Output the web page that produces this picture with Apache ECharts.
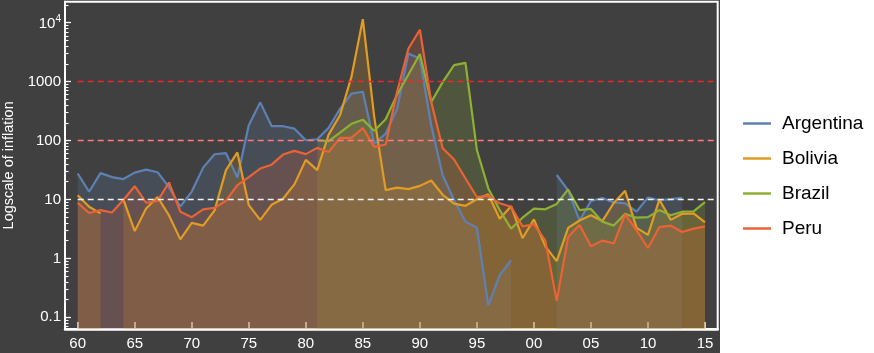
<!DOCTYPE html>
<html>
<head>
<meta charset="utf-8">
<script src="https://cdn.jsdelivr.net/npm/echarts@6.0.0/dist/echarts.min.js"></script>
<style>
html,body{margin:0;padding:0;background:#ffffff;}
#chart{width:874px;height:353px;}
</style>
</head>
<body>
<div id="chart"></div>
<script>
// ---------- data ----------
const years = [1960,1961,1962,1963,1964,1965,1966,1967,1968,1969,
               1970,1971,1972,1973,1974,1975,1976,1977,1978,1979,
               1980,1981,1982,1983,1984,1985,1986,1987,1988,1989,
               1990,1991,1992,1993,1994,1995,1996,1997,1998,1999,
               2000,2001,2002,2003,2004,2005,2006,2007,2008,2009,
               2010,2011,2012,2013,2014,2015];

const argentina = [27.6,13.5,28,24,22.2,28.5,32,29,16.2,7.6,
                   13.6,34.7,58.5,61,23.5,182,444,176,175,159,
                   101,105,164,344,627,672,88,131,343,3000,
                   2440,180,25.8,9.8,4.2,3.3,0.16,0.52,0.93,null,
                   null,null,26,14.3,4.4,9.4,10.6,8.9,8.6,6.2,
                   10.8,9.7,10.1,10.6,null,null];

const bolivia = [11.8,7.5,5.8,null,10,2.9,7.0,11,5.4,2.1,
                 4.0,3.6,6.5,31.4,62.8,8.0,4.5,8.1,10.3,18,
                 47,31.4,126,269,1200,11500,250,14.4,15.9,15,
                 17,21,12,8.5,7.8,10.1,12.2,4.7,7.7,2.2,
                 4.6,1.6,0.9,3.3,4.4,5.4,4.3,8.7,14.0,3.3,
                 2.5,9.9,4.5,5.7,5.8,4.1];

const brazil = [null,null,null,null,null,null,null,null,null,null,
                null,null,null,null,null,null,null,null,null,null,
                null,101,98,136,192,226,147,229,600,1320,
                2950,450,980,1900,2080,69,15.4,6.6,3.2,4.9,
                7.0,6.8,8.4,14.8,6.6,6.9,4.2,3.6,5.7,4.9,
                5.0,6.6,5.4,6.2,6.3,9.0];

const peru = [8.8,5.9,6.6,6.0,9.8,16.8,8.8,9.4,19.4,6.2,
              5.0,6.8,7.2,9.5,17.5,24,33.5,38.9,57.8,66.7,
              58.8,75,64,111,111,163,78,85.6,666,3640,
              7600,450,74,47.7,22.7,11,11.5,8.6,7.5,3.5,
              3.8,2.0,0.19,2.3,3.7,1.6,2.0,1.8,5.6,3.0,
              1.5,3.4,3.6,2.8,3.2,3.5];

const seriesNames = ['Argentina','Bolivia','Brazil','Peru'];
const seriesValues = [argentina, bolivia, brazil, peru];

const xTicks = [1960,1965,1970,1975,1980,1985,1990,1995,2000,2005,2010,2015];
const xTickLabels = ['60','65','70','75','80','85','90','95','00','05','10','15'];

const yMajorTicks = [0.1,1,10,100,1000,10000];
const yMajorLabels = ['0.1','1','10','100','1000','{b|10}{sup|4}'];
const yMinorMultipliers = [2,3,4,5,6,7,8,9];
const yMinorDecades = [0.01,0.1,1,10,100,1000,10000];

const refLineValues = [1000, 100, 10];
const refLineStart = 1960;

// ---------- styling ----------
const colors = ['#5E81B5','#E19C24','#8FB032','#EB6235'];
const refLineColors = ['#e82a2a','#ff7b7b','#f2f2f2'];
const xMin = 1958.886, xMax = 2016.114;
const yMin = 0.0633, yMax = 22700;

const yMinorTicks = [];
yMinorDecades.forEach(d => yMinorMultipliers.forEach(m => yMinorTicks.push(+(m*d).toPrecision(3))));

const chart = echarts.init(document.getElementById('chart'), null, {renderer:'canvas'});

const series = seriesNames.map((name, k) => ({
  name: name,
  type: 'line',
  data: years.map((yr, i) => [yr, seriesValues[k][i]]),
  showSymbol: false,
  symbol: 'none',
  connectNulls: false,
  color: colors[k],
  lineStyle: {width: 2.2, color: colors[k]},
  areaStyle: {color: colors[k], opacity: 0.2, origin: 'start'},
  z: 2
}));

series.push({
  name: 'refs',
  type: 'line',
  data: [],
  z: 1,
  silent: true,
  markLine: {
    silent: true,
    symbol: 'none',
    label: {show: false},
    animation: false,
    data: refLineValues.map((v, i) => [
      {coord: [refLineStart, v], lineStyle: {color: refLineColors[i], type: [6, 4], width: 1.4}},
      {coord: [xMax, v], lineStyle: {color: refLineColors[i], type: [6, 4], width: 1.4}}
    ])
  }
});

const option = {
  animation: false,
  backgroundColor: '#ffffff',
  textStyle: {fontFamily: 'Liberation Sans, Arial, sans-serif'},
  graphic: {elements: [{type: 'rect', z: -100, silent: true,
    shape: {x: 0, y: 0, width: 720, height: 353}, style: {fill: '#404040'}}]},
  grid: {left: 65, right: 156.3, top: 1.7, bottom: 24, show: true,
         containLabel: false, outerBoundsMode: 'none',
         borderColor: '#ffffff', borderWidth: 2, backgroundColor: 'transparent'},
  legend: {
    orient: 'vertical', left: 738, top: 109,
    data: seriesNames,
    icon: 'rect', itemWidth: 28, itemHeight: 2.5, itemGap: 16,
    itemStyle: {borderWidth: 0},
    textStyle: {color: '#000', fontSize: 19, lineHeight: 18, padding: [0,0,0,6],
                fontFamily: 'Liberation Sans, Arial, sans-serif'}
  },
  xAxis: {
    type: 'value', min: xMin, max: xMax,
    axisLine: {show: true, onZero: false, lineStyle: {color: '#ffffff', width: 2.5}},
    axisTick: {show: true, inside: true, length: 7, customValues: xTicks,
               lineStyle: {color: '#ffffff', width: 1.5}},
    axisLabel: {customValues: xTicks, color: '#ffffff', fontSize: 15, margin: 7,
                formatter: v => { const i = xTicks.indexOf(v); return i >= 0 ? xTickLabels[i] : ''; }},
    splitLine: {show: false}
  },
  yAxis: [
    {
      type: 'log', logBase: 10, min: yMin, max: yMax, position: 'left',
      name: 'Logscale of inflation', nameLocation: 'middle', nameGap: 47.5,
      nameTextStyle: {color: '#ffffff', fontSize: 14.5},
      axisLine: {show: true, onZero: false, lineStyle: {color: '#ffffff', width: 2}},
      axisTick: {show: true, inside: true, length: 6, customValues: yMajorTicks,
                 lineStyle: {color: '#ffffff', width: 1.3}},
      axisLabel: {customValues: yMajorTicks, color: '#ffffff', fontSize: 15, margin: 4,
        formatter: v => {
          let i = yMajorTicks.findIndex(t => Math.abs(t - v) / t < 1e-6);
          return i >= 0 ? yMajorLabels[i] : '';
        },
        rich: {
          b: {fontSize: 15, color: '#ffffff', verticalAlign: 'bottom'},
          sup: {fontSize: 10, color: '#ffffff', verticalAlign: 'bottom', padding: [0,0,7,0]}
        }
      },
      splitLine: {show: false},
      minorTick: {show: false}
    },
    {
      type: 'log', logBase: 10, min: yMin, max: yMax, position: 'left',
      axisLine: {show: false},
      axisTick: {show: true, inside: true, length: 3.5, customValues: yMinorTicks,
                 lineStyle: {color: '#ffffff', width: 1.1}},
      axisLabel: {show: false},
      splitLine: {show: false}
    }
  ],
  series: series
};

chart.setOption(option);
</script>
</body>
</html>
